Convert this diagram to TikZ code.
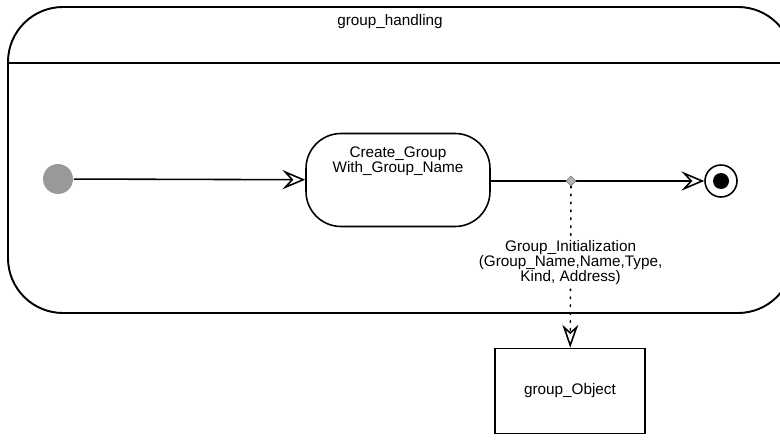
\documentclass[tikz,border=0pt]{standalone}
\usepackage{fontspec}
\setmainfont{Liberation Sans}
\usetikzlibrary{arrows.meta,shapes.geometric}

\begin{document}
\begin{tikzpicture}[x=.02cm,y=-.02cm,line width=.9pt,
  font=\fontsize{8.7}{8.6}\selectfont,
  trans/.style={-{Stealth[open,length=13pt,width=11pt,inset=5pt]}},
  flow/.style={dash pattern=on .9pt off 3.6pt,line cap=round,
    -{Stealth[open,length=13pt,width=9pt,inset=4pt]}},
  state/.style={draw,rounded corners=.7cm,minimum width=3.68cm,minimum height=1.86cm},
  init/.style={circle,fill=black!40,minimum size=.6cm,inner sep=0pt},
  final/.style={circle,draw,minimum size=.64cm,inner sep=0pt,
    path picture={\fill (path picture bounding box.center) circle (.16cm);}},
  junction/.style={diamond,draw=black!50,fill=black!30,line width=.4pt,
    minimum size=.2cm,inner sep=0pt},
  object/.style={draw,minimum width=3cm,minimum height=1.7cm}]
  \clip (0,0) rectangle (780,439);

  % superstate with its name compartment
  \path[draw,rounded corners=1.1cm,line width=1.1pt] (8,7) rectangle (793,313);
  \draw[line width=1.1pt] (8,63) -- (793,63);
  \node (title) at (390,22) {group\_handling};

  \node[init] (start) at (58,179) {};
  \node[state,label={[anchor=north,align=center,yshift=-.14cm]north:Create\_Group\\With\_Group\_Name}]
    (create) at (398,180) {};
  \node[final] (stop) at (721,181) {};
  \node[object] (obj) at (570,391) {group\_Object};

  \draw[trans] (start) -- (create);
  \draw[trans] (create.east |- stop) -- (stop);
  \node[junction] (junc) at (571,181) {};
  \draw[flow] (junc) -- node[pos=.47,fill=white,align=center,inner sep=1pt]
    {Group\_Initialization\\(Group\_Name,Name,Type,\\Kind, Address)} (obj);
\end{tikzpicture}
\end{document}
